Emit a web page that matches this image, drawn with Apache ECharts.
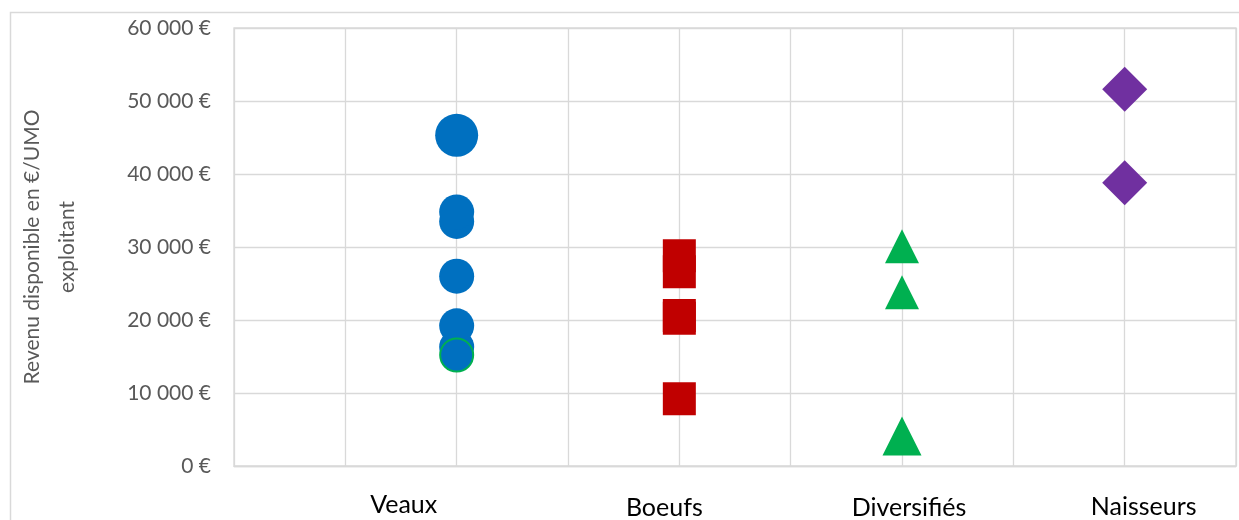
<!DOCTYPE html>
<html>
<head>
<meta charset="utf-8">
<script src="https://cdn.jsdelivr.net/npm/echarts@6/dist/echarts.min.js"></script>
<style>
html,body{margin:0;padding:0;background:#fff;}
#c{width:1239px;height:520px;}
</style>
</head>
<body>
<div id="c"></div>
<script>
// ---- data ----
const categories = ['Veaux', 'Boeufs', 'Diversifiés', 'Naisseurs'];
const categoryX = [2, 4, 6, 8];
const veaux = [45300, 33500, 34800, 26000, 16300, 19200, 15200];
const boeufs = [28800, 26600, 20600, 20250, 9200];
const diversifies = [30100, 23800, 4100];
const naisseurs = [51600, 38800];
const yTicks = [0, 10000, 20000, 30000, 40000, 50000, 60000];
const yAxisTitle = 'Revenu disponible en €/UMO\nexploitant';

// ---- chart ----
const chart = echarts.init(document.getElementById('c'), null, {renderer: 'canvas'});
const grey = '#d9d9d9';
const txt = '#595959';

function pts(x, arr) { return arr.map(v => [x, v]); }

const veauxData = pts(categoryX[0], veaux).map((p, i) => {
  const o = {value: p};
  if (i === veaux.length - 1) {
    o.itemStyle = {color: '#0070C0', borderColor: '#00B050', borderWidth: 2};
    o.symbolSize = 33;
  }
  return o;
});

const richLabel = {
  r0: {fontFamily: 'Lato', fontSize: 25, color: '#000', lineHeight: 30, padding: [0, 106, 0, 0]},
  r1: {fontFamily: 'Lato', fontSize: 25, color: '#000', lineHeight: 30, padding: [5, 30, 0, 0]},
  r2: {fontFamily: 'Lato', fontSize: 25, color: '#000', lineHeight: 30, padding: [5, 0, 0, 14]},
  r3: {fontFamily: 'Lato', fontSize: 25, color: '#000', lineHeight: 30, padding: [3, 0, 0, 38]}
};

chart.setOption({
  animation: false,
  backgroundColor: '#fff',
  graphic: [{
    type: 'rect', silent: true, z: -10,
    shape: {x: 10.5, y: 12.5, width: 1400, height: 700},
    style: {fill: 'none', stroke: grey, lineWidth: 1.5}
  }],
  grid: {left: 234, right: 2, top: 28, bottom: 54, show: true, borderColor: grey, borderWidth: 1.3, containLabel: false},
  xAxis: {
    type: 'value', min: 0, max: 9, interval: 1,
    axisLine: {show: true, lineStyle: {color: grey, width: 1.3}},
    axisTick: {show: false},
    splitLine: {show: true, lineStyle: {color: grey, width: 1.3}},
    axisLabel: {
      margin: 24,
      formatter: function (v) {
        const i = categoryX.indexOf(v);
        return i < 0 ? '' : '{r' + i + '|' + categories[i] + '}';
      },
      rich: richLabel
    }
  },
  yAxis: {
    type: 'value', min: yTicks[0], max: yTicks[yTicks.length - 1], interval: yTicks[1] - yTicks[0],
    axisLine: {show: false},
    axisTick: {show: false},
    splitLine: {show: true, lineStyle: {color: grey, width: 1.3}},
    axisLabel: {
      margin: 23, color: txt, fontFamily: 'Lato', fontSize: 21,
      formatter: v => v === 0 ? '0 €' : (v / 1000) + ' 000 €'
    },
    name: yAxisTitle,
    nameLocation: 'middle',
    nameGap: 149,
    nameTextStyle: {color: txt, fontFamily: 'Lato', fontSize: 21, lineHeight: 35}
  },
  series: [
    {
      name: categories[0], type: 'scatter', symbol: 'circle',
      symbolSize: (val, p) => p.dataIndex === 0 ? 43 : 35,
      itemStyle: {color: '#0070C0', opacity: 1},
      data: veauxData, z: 3
    },
    {
      name: categories[1], type: 'scatter', symbol: 'rect', symbolSize: 33,
      itemStyle: {color: '#C00000', opacity: 1},
      data: pts(categoryX[1], boeufs), z: 3
    },
    {
      name: categories[2], type: 'scatter', symbol: 'triangle',
      symbolSize: (val, p) => p.dataIndex === 2 ? 39 : 34,
      itemStyle: {color: '#00B050', opacity: 1},
      data: pts(categoryX[2], diversifies), z: 3
    },
    {
      name: categories[3], type: 'scatter', symbol: 'diamond', symbolSize: 45,
      itemStyle: {color: '#7030A0', opacity: 1},
      data: pts(categoryX[3], naisseurs), z: 3
    }
  ]
});
</script>
</body>
</html>
